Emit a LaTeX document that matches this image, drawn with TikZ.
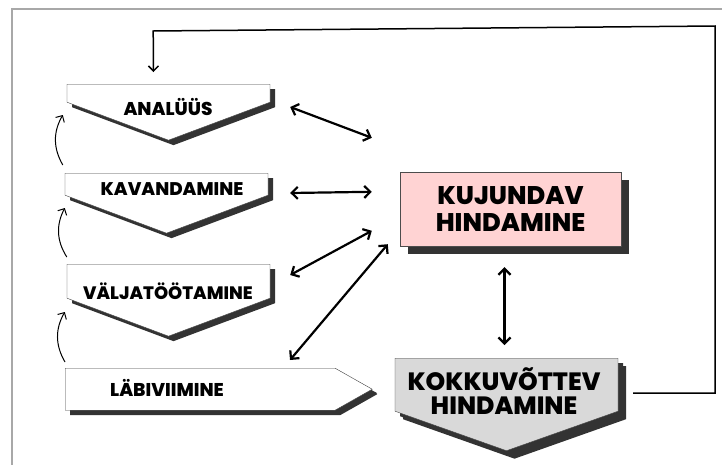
\documentclass[tikz,border=0pt]{standalone}
\usepackage{fontspec}
\setmainfont{Poppins}
\newfontfamily\heavyfont{Poppins}[UprightFont = * SemiBold, BoldFont = * ExtraBold]
\usepackage{tikz}
\usetikzlibrary{arrows.meta, shapes.symbols, shadows}
\definecolor{pinkfill}{HTML}{FFD3D3}
\definecolor{grayfill}{HTML}{D9D9D9}
\definecolor{shadowgray}{HTML}{333333}
\definecolor{framegray}{HTML}{A8A8A8}
\tikzset{stepbox/.style = {shape = signal, signal to = south, signal pointer angle = 139, draw = black!75, fill = white, minimum width = 203pt, inner sep = 0pt, drop shadow = {shadow xshift = 5pt, shadow yshift = -5pt, fill = shadowgray, opacity = 1}}}
\tikzset{steptext/.style = {font = \heavyfont\bfseries\fontsize{18.5}{19}\selectfont}}
\tikzset{bigtext/.style = {font = \heavyfont\bfseries\fontsize{25.5}{27}\selectfont, align = center}}
\tikzset{twoway/.style = {{Straight Barb[length=6pt, width=12pt]}-{Straight Barb[length=6pt, width=12pt]}, line width = 2.2pt}}
\tikzset{back/.style = {-{Straight Barb[length=5pt, width=10pt]}, line width = 1pt}}
\tikzset{loopline/.style = {-{Straight Barb[length=5pt, width=10pt]}, line width = 1.5pt}}

\begin{document}
\begin{tikzpicture}[x = 1pt, y = -1pt]
				\useasboundingbox (0, 0) rectangle (722, 464);
				\draw[framegray, line width = 1.5pt] (12, 9) rectangle (740, 480);

				\node[stepbox, anchor = north, minimum height = 18pt] (an) at (168.5, 84) {};
				\node[stepbox, anchor = north, minimum height = 22pt] (ka) at (166.5, 173) {};
				\node[stepbox, anchor = north, minimum height = 34pt] (va) at (168.5, 264) {};
				\node[stepbox, signal to = east, signal pointer angle = 59, anchor = north west, minimum width = 307pt, minimum height = 42pt, drop shadow = {shadow xshift = 5pt, shadow yshift = -4pt, fill = shadowgray, opacity = 1}] (la) at (65, 368) {};

				\node[steptext] (an-t) at (168, 107) {ANALÜÜS};
				\node[steptext, font = \heavyfont\bfseries\fontsize{18.3}{19}\selectfont] (ka-t) at (172, 189) {KAVANDAMINE};
				\node[steptext, font = \heavyfont\bfseries\fontsize{18}{19}\selectfont] (va-t) at (168, 291) {VÄLJATÖÖTAMINE};
				\node[steptext] (la-t) at (167, 388) {LÄBIVIIMINE};

				\node[bigtext, draw = black!70, fill = pinkfill, minimum width = 221pt, minimum height = 74pt, drop shadow = {shadow xshift = 8pt, shadow yshift = -8pt, fill = shadowgray, opacity = 1}] (ku) at (510.5, 209) {KUJUNDAV\\HINDAMINE};
				\node[stepbox, anchor = north, fill = grayfill, minimum width = 223pt, minimum height = 53pt, signal pointer angle = 141, drop shadow = {shadow xshift = 8pt, shadow yshift = -8pt, fill = shadowgray, opacity = 1}] (ko) at (506.5, 358) {};
				\node[bigtext, font = \heavyfont\bfseries\fontsize{25}{24.5}\selectfont] (ko-t) at (504, 391) {KOKKUVÕTTEV\\HINDAMINE};

				\draw[twoway] ([shift = {(20, 23)}]an.north east) to ([shift = {(-28, -34)}]ku.north west);
				\draw[twoway] ([shift = {(22, 20)}]ka.north east) to ([shift = {(-28, 20)}]ku.north west);
				\draw[twoway] ([shift = {(20, 11)}]va.north east) to ([shift = {(-28, 59)}]ku.north west);
				\draw[twoway] ([shift = {(225, -8)}]la.north west) to ([shift = {(-12, -2)}]ku.south west);
				\draw[twoway] ([shift = {(-6, 21)}]ku.south) to ([shift = {(-2, -13)}]ko.north);

				\draw[back] ([shift = {(-2, -8)}]ka.north west) to[bend left = 30] ([shift = {(-4, 31)}]an.north west);
				\draw[back] ([shift = {(0, -7)}]va.north west) to[bend left = 30] ([shift = {(0, 35)}]ka.north west);
				\draw[back] ([shift = {(0, -6)}]la.north west) to[bend left = 30] ([shift = {(-2, 48)}]va.north west);

				\draw[loopline] ([shift = {(15, 35)}]ko.north east) -- ++(82, 0) -- ++(0, -367) -- ++(-562, 5) -- ([shift = {(-15, -12)}]an.north);
			\end{tikzpicture}
\end{document}
